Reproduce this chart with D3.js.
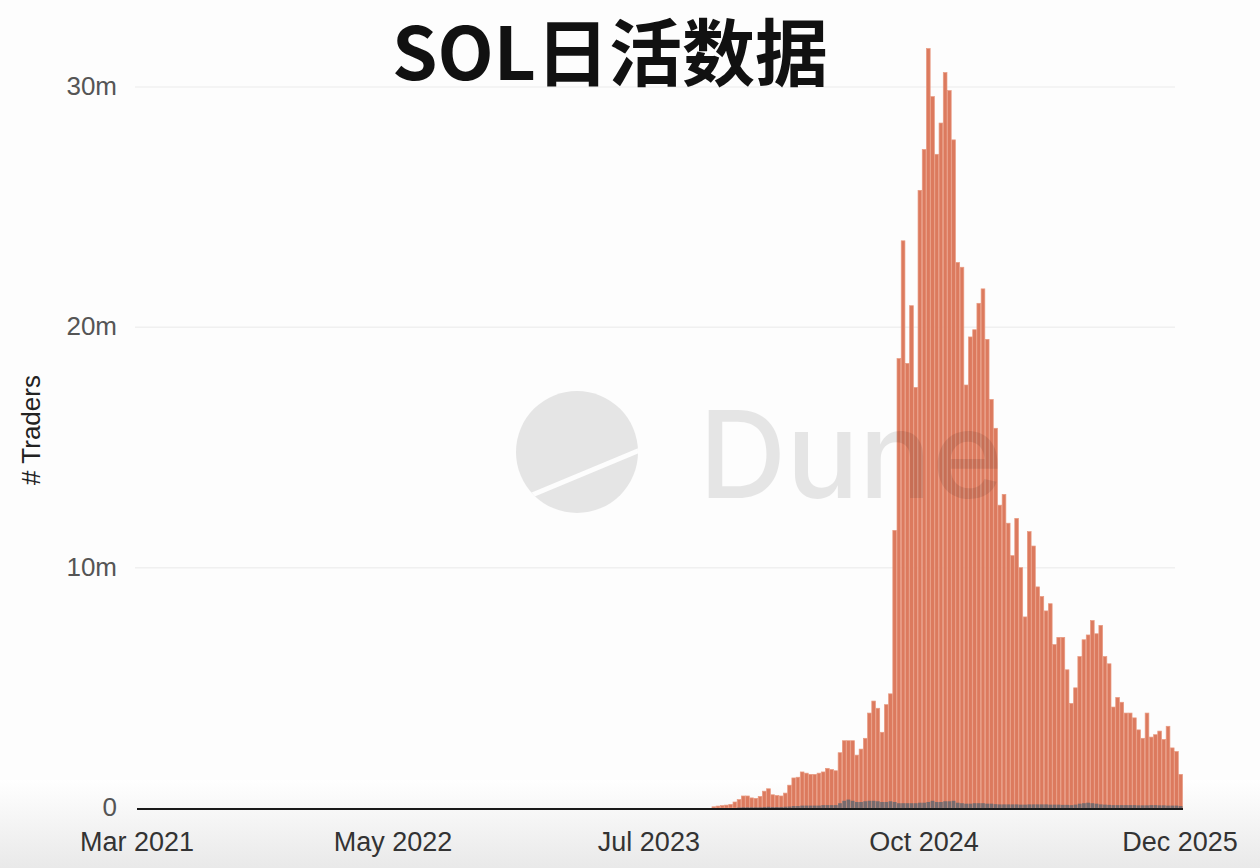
<!DOCTYPE html>
<html>
<head>
<meta charset="utf-8">
<script src="https://cdn.jsdelivr.net/npm/d3@7"></script>
<style>
  body { margin: 0; background: #fff; }
  svg { display: block; }
</style>
</head>
<body>
<svg id="chart"></svg>
<script>
// weekly traders (millions), first week starts 2023-10-14
const firstWeek = new Date(2023, 9, 14);
const totalTraders = [
  0.05, 0.08, 0.1, 0.12, 0.15, 0.25, 0.35, 0.5, 0.5, 0.42, 0.4, 0.48, 0.7, 0.8, 0.55, 0.52, 0.5, 0.62, 0.95, 1.25, 1.28,
  1.5, 1.45, 1.4, 1.4, 1.45, 1.5, 1.65, 1.6, 1.55,
  2.3, 2.8, 2.8, 2.8, 2.2, 2.45, 2.9, 3.95, 4.45, 4.15, 3.15, 4.3, 4.75,
  11.55, 18.7, 23.6, 18.5, 20.9, 17.5, 25.7, 27.4, 31.6, 29.6, 27.2, 28.5, 30.6, 29.85, 27.8, 22.7, 22.5,
  17.6, 19.6, 19.9, 21.0, 21.6, 19.5, 17.0, 15.8, 12.6, 13.05, 11.85, 10.5, 12.05, 10.0, 7.95, 11.5, 10.9,
  9.2, 8.8, 8.2, 8.5, 6.8, 7.1, 7.1, 5.75, 4.35, 5.0, 6.3, 7.0, 7.2, 7.8, 7.25, 7.6, 6.3, 6.0,
  4.2, 4.6, 4.4, 3.95, 3.95, 3.75, 3.25, 2.9, 3.95, 2.95, 3.05, 3.2, 2.85, 3.4, 2.5, 2.35, 1.4
];
// the small dark series sitting at the bottom of the bars
const otherTraders = [
  0, 0, 0, 0, 0, 0, 0.02, 0.03, 0.03, 0.03, 0.03, 0.03, 0.04, 0.05, 0.04, 0.04, 0.04, 0.05, 0.06, 0.08, 0.08,
  0.1, 0.1, 0.1, 0.1, 0.1, 0.12, 0.12, 0.12, 0.12,
  0.2, 0.3, 0.35, 0.3, 0.25, 0.25, 0.28, 0.3, 0.3, 0.28, 0.25, 0.25, 0.28,
  0.25, 0.2, 0.2, 0.2, 0.2, 0.2, 0.22, 0.22, 0.25, 0.3, 0.25, 0.25, 0.28, 0.28, 0.3, 0.22, 0.2,
  0.18, 0.18, 0.2, 0.2, 0.2, 0.18, 0.18, 0.16, 0.15, 0.15, 0.15, 0.15, 0.15, 0.14, 0.14, 0.15, 0.15,
  0.15, 0.15, 0.15, 0.14, 0.14, 0.14, 0.13, 0.13, 0.12, 0.14, 0.18, 0.2, 0.22, 0.2, 0.18, 0.15, 0.14,
  0.13, 0.12, 0.12, 0.12, 0.12, 0.12, 0.12, 0.11, 0.11, 0.11, 0.12, 0.12, 0.11, 0.11, 0.1, 0.1, 0.1, 0.08
];
const xTickDates = [new Date(2021, 2, 1), new Date(2022, 4, 1), new Date(2023, 6, 1), new Date(2024, 9, 1), new Date(2025, 11, 1)];
const xTickLabels = ["Mar 2021", "May 2022", "Jul 2023", "Oct 2024", "Dec 2025"];
const yTicks = [0, 10, 20, 30];

class TradersChart {
    constructor(_config) {
        this.config = {
            parentElement: _config.parentElement,
            containerWidth: _config.containerWidth || 1260,
            containerHeight: _config.containerHeight || 868
        };
        this.initVis();
    }

    initVis() {
        let vis = this;

        vis.svg = d3.select(vis.config.parentElement)
            .attr('width', vis.config.containerWidth)
            .attr('height', vis.config.containerHeight);

        // grey fade at the bottom of the screenshot
        const defs = vis.svg.append('defs');
        const grad = defs.append('linearGradient').attr('id', 'fade').attr('x1', 0).attr('x2', 0).attr('y1', 0).attr('y2', 1);
        grad.append('stop').attr('offset', '0%').attr('stop-color', '#ffffff');
        grad.append('stop').attr('offset', '100%').attr('stop-color', '#e9e9e9');
        vis.svg.append('rect').attr('width', 1260).attr('height', 868).attr('fill', '#fdfdfd');
        vis.svg.append('rect').attr('y', 780).attr('width', 1260).attr('height', 88).attr('fill', 'url(#fade)');

        vis.xScale = d3.scaleTime()
            .domain([xTickDates[0], xTickDates[xTickDates.length - 1]])
            .range([137, 1180]);
        vis.yScale = d3.scaleLinear()
            .domain([0, 30])
            .range([808, 87]);

        vis.data = totalTraders.map((v, i) => ({
            date: d3.timeDay.offset(firstWeek, 7 * i),
            total: v,
            other: otherTraders[i]
        }));

        vis.renderVis();
    }

    renderVis() {
        let vis = this;
        const x = vis.xScale, y = vis.yScale;

        // gridlines
        vis.svg.append('g').selectAll('line')
            .data(yTicks.filter(d => d > 0))
            .join('line')
            .attr('x1', 135).attr('x2', 1175)
            .attr('y1', d => y(d)).attr('y2', d => y(d))
            .attr('stroke', '#f0f0f0').attr('stroke-width', 1.5);

        // y tick labels
        vis.svg.append('g').selectAll('text')
            .data(yTicks)
            .join('text')
            .attr('x', 117)
            .attr('y', d => y(d) + 8)
            .attr('text-anchor', 'end')
            .attr('font-family', 'Liberation Sans, Arial, sans-serif')
            .attr('font-size', 26)
            .attr('fill', '#555')
            .text(d => d === 0 ? '0' : d + 'm');

        // y axis title
        vis.svg.append('text')
            .attr('transform', 'translate(40,430) rotate(-90)')
            .attr('text-anchor', 'middle')
            .attr('font-family', 'Liberation Sans, Arial, sans-serif')
            .attr('font-size', 26)
            .attr('fill', '#222')
            .text('# Traders');

        // bars
        const barW = d => x(d3.timeDay.offset(d.date, 7)) - x(d.date) - 0.5;
        vis.svg.append('g').selectAll('rect')
            .data(vis.data)
            .join('rect')
            .attr('x', d => x(d.date))
            .attr('width', barW)
            .attr('y', d => y(d.total))
            .attr('height', d => y(0) - y(d.total))
            .attr('fill', '#dc7a5e')
            .attr('stroke', '#e99b82')
            .attr('stroke-width', 0.7);

        vis.svg.append('g').selectAll('rect')
            .data(vis.data)
            .join('rect')
            .attr('x', d => x(d.date))
            .attr('width', barW)
            .attr('y', d => y(d.other))
            .attr('height', d => y(0) - y(d.other))
            .attr('fill', '#5d6670')
            .attr('opacity', 0.8);

        // baseline
        vis.svg.append('line')
            .attr('x1', x(xTickDates[0])).attr('x2', x(d3.timeDay.offset(vis.data[vis.data.length - 1].date, 7)))
            .attr('y1', y(0) + 1).attr('y2', y(0) + 1)
            .attr('stroke', '#1a1a1a').attr('stroke-width', 2.2);

        // x tick labels
        vis.svg.append('g').selectAll('text')
            .data(xTickDates)
            .join('text')
            .attr('x', d => x(d))
            .attr('y', 851)
            .attr('text-anchor', 'middle')
            .attr('font-family', 'Liberation Sans, Arial, sans-serif')
            .attr('font-size', 27)
            .attr('fill', '#333')
            .text((d, i) => xTickLabels[i]);

        // Dune watermark over everything
        const wm = vis.svg.append('g').attr('opacity', 0.09);
        wm.append('clipPath').attr('id', 'logoClip')
            .append('circle').attr('cx', 577).attr('cy', 452).attr('r', 61);
        wm.append('circle').attr('cx', 577).attr('cy', 452).attr('r', 61).attr('fill', '#000');
        vis.svg.append('line')
            .attr('x1', 520).attr('y1', 500).attr('x2', 645).attr('y2', 448)
            .attr('stroke', '#fdfdfd').attr('stroke-width', 5)
            .attr('clip-path', 'url(#logoClip)');
        wm.append('text')
            .attr('x', 699).attr('y', 498)
            .attr('font-family', 'Inter, Liberation Sans, sans-serif')
            .attr('font-weight', 500)
            .attr('font-size', 121)
            .attr('fill', '#000')
            .text('Dune');

        // title
        vis.svg.append('text')
            .attr('x', 610).attr('y', 80)
            .attr('text-anchor', 'middle')
            .attr('font-family', 'Noto Sans CJK SC, sans-serif')
            .attr('font-weight', 700)
            .attr('font-size', 73)
            .attr('fill', '#111')
            .text('SOL日活数据');
    }
}

new TradersChart({ parentElement: '#chart' });
</script>
</body>
</html>
